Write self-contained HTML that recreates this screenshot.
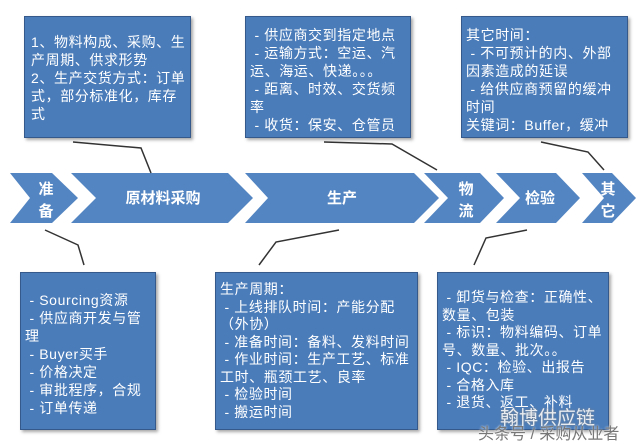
<!DOCTYPE html><html><head><meta charset="utf-8"><style>
body{margin:0;width:640px;height:441px;background:#fff;position:relative;overflow:hidden;font-family:"Liberation Sans","Noto Sans CJK SC",sans-serif}
.b{position:absolute;background:#4a7cba;border:1px solid #35598a;box-shadow:2px 2px 3px rgba(0,0,0,.35);color:#fff;font-size:14px;letter-spacing:0.6px;line-height:18px;box-sizing:border-box;padding:4px 4px}
svg{position:absolute;left:0;top:0}
</style></head><body>
<svg width="640" height="441">
<g fill="#5385c2">
<polygon points="10,173 52,173 78,198 52,223 10,223 30,198"/>
<polygon points="71,173 228,173 253,198 228,223 71,223 96,198"/>
<polygon points="245,173 414,173 439,198 414,223 245,223 268,198"/>
<polygon points="424,173 480,173 504,198 480,223 424,223 448,198"/>
<polygon points="496,173 556,173 580,198 556,223 496,223 520,198"/>
<polygon points="582,173 612,173 636,198 612,223 582,223 604,198"/>
</g>
<g fill="#fff" font-size="15" font-weight="bold" font-family="Liberation Sans,Noto Sans CJK SC,sans-serif" text-anchor="middle">
<text x="46" y="194">准</text><text x="46" y="216">备</text>
<text x="163" y="203">原材料采购</text>
<text x="342" y="203">生产</text>
<text x="466" y="194">物</text><text x="466" y="216">流</text>
<text x="540" y="203">检验</text>
<text x="608" y="194">其</text><text x="608" y="216">它</text>
</g>
<g stroke="#333" stroke-width="1.5" fill="none">
<polyline points="73,142 141,148 151,173"/>
<polyline points="324,142 392,144 437,170"/>
<polyline points="541,142 588,152 604,170"/>
<polyline points="45,230 78,245 84,265"/>
<polyline points="339,230 276,242 259,265"/>
<polyline points="527,230 486,238 474,265"/>
</g>
</svg>
<div class="b" style="left:24px;top:16px;width:167px;height:122px;padding-top:16px;padding-left:6px">1、物料构成、采购、生产周期、供求形势<br>2、生产交货方式：订单式，部分标准化，库存式</div>
<div class="b" style="left:245px;top:16px;width:166px;height:122px;padding-top:9px">&nbsp;- 供应商交到指定地点<br>&nbsp;- 运输方式：空运、汽运、海运、快递。。。<br>&nbsp;- 距离、时效、交货频率<br>&nbsp;- 收货：保安、仓管员</div>
<div class="b" style="left:461px;top:16px;width:167px;height:122px;padding-top:9px">其它时间：<br>&nbsp;- 不可预计的内、外部因素造成的延误<br>&nbsp;- 给供应商预留的缓冲时间<br>关键词：Buffer，缓冲</div>
<div class="b" style="left:20px;top:272px;width:136px;height:158px;padding-top:18px">&nbsp;- Sourcing资源<br>&nbsp;- 供应商开发与管理<br>&nbsp;- Buyer买手<br>&nbsp;- 价格决定<br>&nbsp;- 审批程序，合规<br>&nbsp;- 订单传递</div>
<div class="b" style="left:215px;top:272px;width:203px;height:158px;padding-top:8px;line-height:17.5px">生产周期：<br>&nbsp;- 上线排队时间：产能分配（外协）<br>&nbsp;- 准备时间：备料、发料时间<br>&nbsp;- 作业时间：生产工艺、标准工时、瓶颈工艺、良率<br>&nbsp;- 检验时间<br>&nbsp;- 搬运时间</div>
<div class="b" style="left:437px;top:272px;width:172px;height:158px;padding-top:16px;line-height:17.5px">&nbsp;- 卸货与检查：正确性、数量、包装<br>&nbsp;- 标识：物料编码、订单号、数量、批次。。<br>&nbsp;- IQC：检验、出报告<br>&nbsp;- 合格入库<br>&nbsp;- 退货、返工、补料</div>
<div style="position:absolute;left:500px;top:403px;color:rgba(255,255,255,.85);font-size:19px;text-shadow:0 0 2px #888">翰博供应链</div>
<div style="position:absolute;left:478px;top:420px;color:#777;font-size:16px;text-shadow:0 0 2px #fff">头条号 / 采购从业者</div>
</body></html>
